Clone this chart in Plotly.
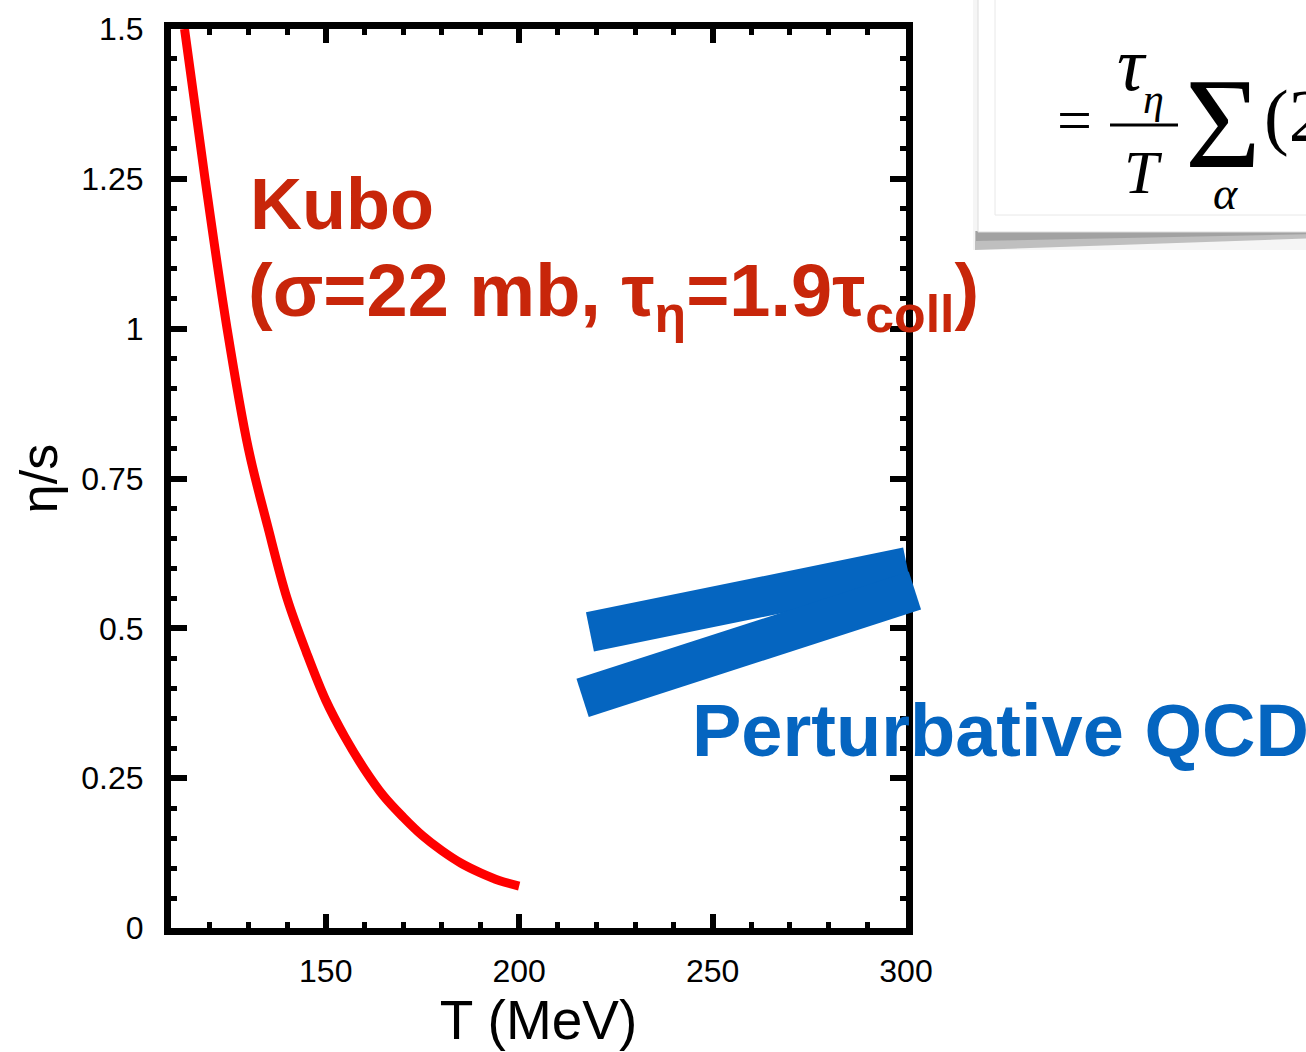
import plotly.graph_objects as go

# ---------------- data ----------------
kubo_T = [113.5, 118.8, 124.5, 130.0, 135.0, 140.0, 145.0, 150.0, 155.0, 160.0,
          165.0, 170.0, 175.0, 180.0, 185.0, 190.0, 195.0, 200.0]
kubo_eta_s = [1.50, 1.25, 1.00, 0.80, 0.67, 0.55, 0.46, 0.38, 0.318, 0.265,
              0.22, 0.185, 0.154, 0.129, 0.108, 0.092, 0.079, 0.07]

pqcd_upper_T = [218.3, 300.3]
pqcd_upper_eta_s = [0.494, 0.602]
pqcd_lower_T = [216.4, 302.3]
pqcd_lower_eta_s = [0.384, 0.563]

x_tickvals = [150, 200, 250, 300]
x_ticktext = ["150", "200", "250", "300"]
y_tickvals = [0, 0.25, 0.5, 0.75, 1.0, 1.25, 1.5]
y_ticktext = ["0", "0.25", "0.5", "0.75", "1", "1.25", "1.5"]

# ---------------- layout geometry ----------------
W_FIG, H_FIG = 1306, 1052
ML, MR, MT, MB = 171, 346, 29, 124
PW = W_FIG - ML - MR
PH = H_FIG - MT - MB
XMIN, XMAX = 110, 300
ppu = (906 - ML) / (XMAX - XMIN)
x2max = XMIN + PW / ppu


def px(x):
    return (x - ML) / PW


def py(y):
    return 1 - (y - MT) / PH


RED_TXT = "#C8260A"
BLUE = "#0565C0"
SANS = "Liberation Sans"
SERIF = "Liberation Serif"

fig = go.Figure()

fig.add_trace(go.Scatter(x=kubo_T, y=kubo_eta_s, mode="lines",
                         line=dict(color="#FF0000", width=9, shape="spline", smoothing=1.0),
                         showlegend=False, xaxis="x", yaxis="y"))

for xs, ys in [(pqcd_upper_T, pqcd_upper_eta_s), (pqcd_lower_T, pqcd_lower_eta_s)]:
    fig.add_trace(go.Scatter(x=xs, y=ys, mode="lines",
                             line=dict(color=BLUE, width=40),
                             showlegend=False, xaxis="x2", yaxis="y"))

axis_common = dict(showgrid=False, zeroline=False, showline=True, linecolor="black",
                   linewidth=7, mirror="ticks", ticks="inside", tickcolor="black",
                   automargin=False)

fig.update_layout(
    width=W_FIG, height=H_FIG,
    margin=dict(l=ML, r=MR, t=MT, b=MB, autoexpand=False),
    paper_bgcolor="white", plot_bgcolor="rgba(0,0,0,0)",
    font=dict(family=SANS, color="black"),
    xaxis=dict(**axis_common, domain=[0, (906 - ML) / PW], range=[XMIN, XMAX],
               tickvals=x_tickvals, ticktext=x_ticktext, ticklen=14, tickwidth=6,
               tickfont=dict(size=32, family=SANS), ticklabelstandoff=9,
               minor=dict(ticks="inside", dtick=10, ticklen=6, tickwidth=5, tickcolor="black"),
               title=dict(text="T (MeV)", font=dict(size=55, family=SANS), standoff=14),
               anchor="y"),
    xaxis2=dict(domain=[0, 1], range=[XMIN, x2max], visible=False, anchor="y",
                showgrid=False, zeroline=False, automargin=False),
    yaxis=dict(**axis_common, range=[0, 1.5], tickvals=y_tickvals, ticktext=y_ticktext,
               ticklen=16, tickwidth=6, tickfont=dict(size=32, family=SANS),
               ticklabelstandoff=14,
               minor=dict(ticks="inside", dtick=0.05, ticklen=6, tickwidth=5, tickcolor="black"),
               title=dict(text="η/s", font=dict(size=52, family=SANS), standoff=10),
               anchor="x"),
)

# ---------- labels ----------
ann = []
ann.append(dict(text="<b>Kubo</b>", x=px(248), y=py(204), xref="paper", yref="paper",
                xanchor="left", yanchor="middle", showarrow=False,
                font=dict(size=72, family=SANS, color=RED_TXT)))
ann.append(dict(text="<b>(σ=22 mb, τ<sub>η</sub>=1.9τ<sub>coll</sub>)</b>", x=px(246), y=py(296),
                xref="paper", yref="paper", xanchor="left", yanchor="middle", showarrow=False,
                font=dict(size=74, family=SANS, color=RED_TXT)))
ann.append(dict(text="<b>Perturbative QCD</b>", x=px(690), y=py(730), xref="paper", yref="paper",
                xanchor="left", yanchor="middle", showarrow=False,
                font=dict(size=74, family=SANS, color=BLUE)))

# ---------- inset formula box ----------
shapes = [
    dict(type="rect", xref="paper", yref="paper", x0=px(973), x1=px(1320), y0=py(-10), y1=py(250),
         fillcolor="rgba(0,0,0,0.04)", line=dict(width=0), layer="above"),
    dict(type="path", xref="paper", yref="paper",
         path=f"M {px(975)} {py(231)} L {px(1320)} {py(231)} L {px(1320)} {py(238)} L {px(975)} {py(250)} Z",
         fillcolor="rgba(0,0,0,0.22)", line=dict(width=0), layer="above"),
    dict(type="path", xref="paper", yref="paper",
         path=f"M {px(976)} {py(231)} L {px(1320)} {py(231)} L {px(1320)} {py(234)} L {px(976)} {py(241)} Z",
         fillcolor="rgba(0,0,0,0.15)", line=dict(width=0), layer="above"),
    dict(type="rect", xref="paper", yref="paper", x0=px(978), x1=px(1320), y0=py(-10), y1=py(232),
         fillcolor="white", line=dict(color="#dcdcdc", width=1), layer="above"),
    dict(type="rect", xref="paper", yref="paper", x0=px(995), x1=px(1320), y0=py(-10), y1=py(215),
         fillcolor="rgba(0,0,0,0)", line=dict(color="#e8e8e8", width=1), layer="above"),
    dict(type="line", xref="paper", yref="paper", x0=px(1110), x1=px(1178), y0=py(125), y1=py(125),
         line=dict(color="black", width=3), layer="above"),
]


def ftxt(t, x, y, size, anchor="center"):
    return dict(text=t, x=px(x), y=py(y), xref="paper", yref="paper", xanchor=anchor,
                yanchor="middle", showarrow=False, font=dict(size=size, family=SERIF, color="black"))


ann += [
    ftxt("=", 1074, 119.5, 62),
    ftxt("<i>τ</i>", 1132, 64, 76),
    ftxt("<i>η</i>", 1153, 99, 42),
    ftxt("<i>T</i>", 1143, 172, 62),
    ftxt("Σ", 1223, 123, 130),
    ftxt("<i>α</i>", 1225, 194, 46),
    ftxt("(2", 1262, 116, 74, anchor="left"),
]

fig.update_layout(annotations=ann, shapes=shapes)

fig.write_html("out.html")
